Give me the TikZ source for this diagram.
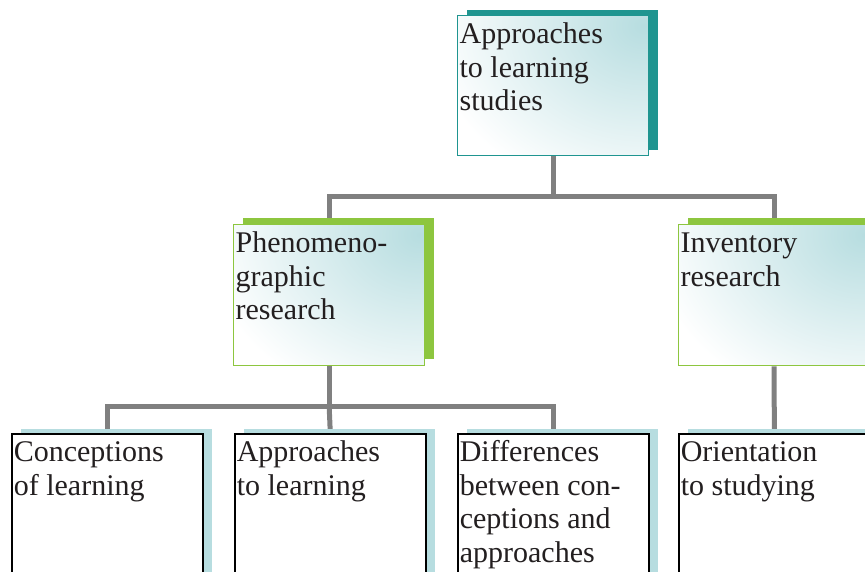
\documentclass[tikz,border=0pt]{standalone}
\usepackage{fontspec}
\setmainfont{Liberation Serif}
\usetikzlibrary{shadows}

\definecolor{tealdeep}{RGB}{31,149,144}
\definecolor{leaf}{RGB}{141,198,63}
\definecolor{ice}{RGB}{183,221,224}
\definecolor{wire}{RGB}{128,128,128}
\definecolor{ink}{RGB}{35,31,32}

\pgfdeclarelayer{background}
\pgfsetlayers{background,main}

% text block pinned to the top-left corner of a card
\newcommand\cardlines[2]{\parbox[t][#1][t]{187pt}{\raggedright\rule{0pt}{28pt}#2}}

\tikzset{
  card/.style={rectangle, anchor=north west, inner sep=0pt,
    minimum width=191pt, line width=1.3pt, text=ink,
    font=\fontsize{30}{33.5}\selectfont},
  glow/.style={path picture={\fill[white] (path picture bounding box.south west)
      rectangle (path picture bounding box.north east);
    \shade[inner color=ice, outer color=white]
      ([xshift=-5pt,yshift=-10pt]path picture bounding box.north east)
      ellipse (215pt and 175pt);}},
  headcard/.style={card, draw=tealdeep, glow,
    copy shadow={shadow xshift=9pt, shadow yshift=6pt, fill=tealdeep, draw=none}},
  midcard/.style={card, draw=leaf, glow,
    copy shadow={shadow xshift=9pt, shadow yshift=7pt, fill=leaf, draw=none}},
  leafcard/.style={card, draw=black, line width=1.6pt, fill=white,
    copy shadow={shadow xshift=9pt, shadow yshift=5pt, fill=ice, draw=none}},
  link/.style={draw=wire, line width=5pt}
}

\begin{document}
\begin{tikzpicture}[x=1pt,y=-1pt]
\useasboundingbox (0,0) rectangle (865,571);
\clip (0,0) rectangle (865,571);

% top level
\node[headcard] (root) at (457,15) {\cardlines{140pt}{Approaches\\to learning\\studies}};

% second level
\node[midcard] (phen) at (233,224) {\cardlines{141pt}{Phenomeno-\\graphic\\research}};
\node[midcard] (inv) at (678,224) {\cardlines{141pt}{Inventory\\research}};

% third level
\node[leafcard] (conc) at (11,433) {\cardlines{170pt}{Conceptions\\of learning}};
\node[leafcard] (appr) at (234,433) {\cardlines{170pt}{Approaches\\to learning}};
\node[leafcard] (diff) at (457,433) {\cardlines{170pt}{Differences\\between con-\\ceptions and\\approaches}};
\node[leafcard] (orient) at (678,433) {\cardlines{170pt}{Orientation\\to studying}};

% connectors, kept behind the cards
\begin{pgfonlayer}{background}
  \draw[link] (root.south) -- ++(0,40) coordinate (j1);
  \draw[link] (phen.north) |- (j1) -| (inv.north);
  \draw[link] (phen.south) -- ++(0,40) coordinate (j2);
  \draw[link] (conc.north) |- (j2) -| (diff.north);
  \draw[link] (j2) -- (appr.north);
  \draw[link] (inv.south) -- (orient.north);
\end{pgfonlayer}
\end{tikzpicture}
\end{document}
